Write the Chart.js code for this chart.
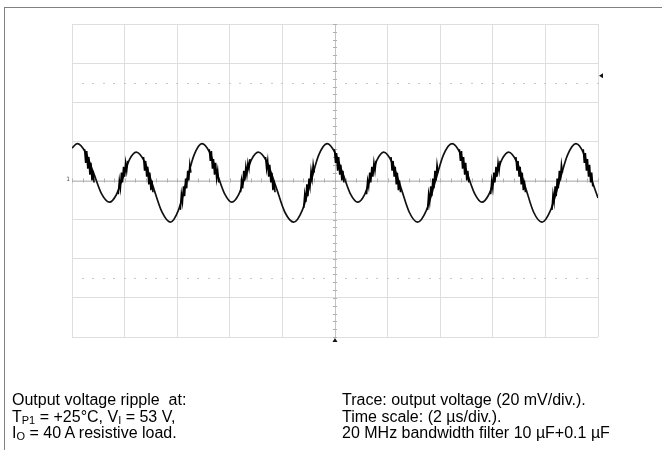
<!DOCTYPE html>
<html>
<head>
<meta charset="utf-8">
<script src="https://cdn.jsdelivr.net/npm/chart.js@4.4.1/dist/chart.umd.min.js"></script>
<style>
  html, body { margin: 0; padding: 0; background: #fff; }
  #wrap { position: relative; width: 662px; height: 450px; overflow: hidden; }
  #c { position: absolute; left: 0; top: 0; }
  #frame { position: absolute; left: 4px; top: 7px; width: 660px; height: 450px;
           border-top: 1px solid #808080; border-left: 1px solid #808080; }
  .note { position: absolute; top: 392px; font-family: "Liberation Sans", Arial, sans-serif;
          font-size: 16px; line-height: 16.5px; color: #000; white-space: nowrap; }
  .sb { font-size: 11px; vertical-align: -2px; line-height: 0; }
</style>
</head>
<body>
<div id="wrap">
  <canvas id="c" width="662" height="450"></canvas>
  <div id="frame"></div>
  <div class="note" style="left:12px;">
    Output voltage ripple&nbsp; at:<br>
    T<span class="sb">P1</span> = +25°C, V<span class="sb">I</span> = 53 V,<br>
    I<span class="sb">O</span> = 40 A resistive load.
  </div>
  <div class="note" style="left:342px;">
    Trace: output voltage (20 mV/div.).<br>
    Time scale: (2 µs/div.).<br>
    20 MHz bandwidth filter 10 µF+0.1 µF
  </div>
</div>
<script>
// Time axis in µs (2 µs/div, 10 div), voltage axis in mV (20 mV/div, 8 div)
const timeTicksUs = [0, 2, 4, 6, 8, 10, 12, 14, 16, 18, 20];
const voltTicksMv = [-80, -60, -40, -20, 0, 20, 40, 60, 80];
const triggerLevelMv = 53.6;
const triggerTimeUs = 10;

// Smooth part of the ripple trace
const traceTimeUs = [
  0.00, 0.20, 0.51, 0.82, 1.12, 1.43, 1.68, 1.94, 2.19, 2.44, 2.77, 3.09, 3.42, 3.74,
  4.04, 4.34, 4.64, 4.94, 5.23, 5.51, 5.80, 6.08, 6.33, 6.58, 6.83, 7.08, 7.42, 7.76,
  8.09, 8.43, 8.75, 9.07, 9.38, 9.70, 9.99, 10.29, 10.58, 10.87, 11.12, 11.36, 11.61,
  11.85, 12.17, 12.50, 12.82, 13.14, 13.47, 13.80, 14.12, 14.45, 14.74, 15.02, 15.31,
  15.59, 15.84, 16.10, 16.35, 16.60, 16.92, 17.24, 17.55, 17.87, 18.19, 18.52, 18.84,
  19.16, 19.45, 19.73, 20.00
];
const traceMv = [
  16.6, 18.9, 14.5, 3.9, -6.7, -11.1, -7.4, 1.7, 10.8, 14.5, 9.3, -3.4, -16.1, -21.3,
  -15.4, -1.2, 13.0, 18.9, 14.5, 3.9, -6.7, -11.1, -7.4, 1.7, 10.8, 14.5, 9.3, -3.4,
  -16.1, -21.3, -15.4, -1.2, 13.0, 18.9, 14.5, 3.9, -6.7, -11.1, -7.4, 1.7, 10.8,
  14.5, 9.3, -3.4, -16.1, -21.3, -15.4, -1.2, 13.0, 18.9, 14.5, 3.9, -6.7,
  -11.1, -7.4, 1.7, 10.8, 14.5, 9.3, -3.4, -16.1, -21.3, -15.4, -1.2, 13.0,
  18.9, 14.0, 1.5, -8.9
];

// Switching-noise bursts on the edges (null separates bursts)
const noiseTimeUs = [
  0.48,0.52,0.56,0.60,0.64,0.68,0.72,0.76,0.80,0.84, 0.86,
  1.76,1.80,1.84,1.88,1.92,1.96,2.00,2.04,2.08,2.12, 2.14,
  2.72,2.76,2.80,2.84,2.88,2.92,2.96,3.00,3.04,3.08, 3.10,
  4.12,4.16,4.20,4.24,4.28,4.32,4.36,4.40,4.44,4.48,4.52, 4.54,
  5.22,5.26,5.30,5.34,5.38,5.42,5.46,5.50,5.54,5.58, 5.60,
  6.41,6.45,6.49,6.53,6.57,6.61,6.65,6.69,6.73,6.77, 6.79,
  7.36,7.40,7.44,7.48,7.52,7.56,7.60,7.64,7.68,7.72, 7.74,
  8.81,8.85,8.89,8.93,8.97,9.01,9.05,9.09,9.13,9.17,9.21, 9.23,
  9.98,10.02,10.06,10.10,10.14,10.18,10.22,10.26,10.30,10.34, 10.36,
  11.20,11.24,11.28,11.32,11.36,11.40,11.44,11.48,11.52,11.56, 11.58,
  12.13,12.17,12.21,12.25,12.29,12.33,12.37,12.41,12.45,12.49, 12.51,
  13.52,13.56,13.60,13.64,13.68,13.72,13.76,13.80,13.84,13.88,13.92, 13.94,
  14.73,14.77,14.81,14.85,14.89,14.93,14.97,15.01,15.05,15.09, 15.11,
  15.92,15.96,16.00,16.04,16.08,16.12,16.16,16.20,16.24,16.28, 16.30,
  16.88,16.92,16.96,17.00,17.04,17.08,17.12,17.16,17.20,17.24, 17.26,
  18.25,18.29,18.33,18.37,18.41,18.45,18.49,18.53,18.57,18.61,18.65, 18.67,
  19.44,19.48,19.52,19.56,19.60,19.64,19.68,19.72,19.76,19.80
];
const noiseMv = [
  16,9,15,6,12,3,9,0,5,-1, null,
  -7,0,-4,4,-1,7,2,9,5,10, null,
  12,5,10,2,7,-2,4,-5,0,-6, null,
  -15,-7,-11,-3,-8,1,-4,5,0,8,4, null,
  16,10,15,6,11,3,9,1,5,-1, null,
  -6,0,-4,5,0,7,3,9,6,11, null,
  12,6,10,2,8,-1,4,-5,0,-6, null,
  -14,-7,-11,-2,-8,1,-3,5,1,8,4, null,
  16,9,14,5,12,3,8,0,5,-1, null,
  -7,0,-3,4,-1,7,2,9,5,10, null,
  12,5,10,2,7,-2,4,-5,0,-6, null,
  -15,-7,-11,-3,-8,1,-4,5,0,8,4, null,
  16,10,15,6,12,3,9,0,5,-1, null,
  -7,0,-4,4,-1,7,2,9,5,10, null,
  12,5,10,2,7,-2,4,-5,0,-6, null,
  -15,-7,-11,-3,-8,1,-4,5,0,8,4, null,
  16,9,14,5,11,2,8,-1,4,-3
];

const tracePoints = traceTimeUs.map((t, i) => ({ x: t, y: traceMv[i] }));
const noisePoints = noiseTimeUs.map((t, i) => ({ x: t, y: noiseMv[i] }));

const scopeDecor = {
  id: 'scopeDecor',
  beforeDatasetsDraw(chart) {
    const { ctx, chartArea: a, scales: { x, y } } = chart;
    const cx = x.getPixelForValue(triggerTimeUs);
    const cy = y.getPixelForValue(0);
    ctx.save();
    ctx.strokeStyle = '#c4c4c4';
    ctx.lineWidth = 1;
    ctx.beginPath();
    ctx.moveTo(a.left, Math.round(cy) + 0.5); ctx.lineTo(a.right, Math.round(cy) + 0.5);
    ctx.moveTo(Math.round(cx) + 0.5, a.top); ctx.lineTo(Math.round(cx) + 0.5, a.bottom);
    ctx.stroke();
    ctx.strokeStyle = '#b0b0b0';
    ctx.beginPath();
    for (let t = 0; t <= 20.001; t += 0.4) {
      const px = Math.round(x.getPixelForValue(t)) + 0.5;
      ctx.moveTo(px, cy - 2); ctx.lineTo(px, cy + 2);
    }
    for (let v = -80; v <= 80.001; v += 4) {
      const py = Math.round(y.getPixelForValue(v)) + 0.5;
      ctx.moveTo(cx - 2, py); ctx.lineTo(cx + 2, py);
    }
    ctx.stroke();
    ctx.fillStyle = '#c8c8c8';
    [50, -50].forEach(v => {
      const py = Math.round(y.getPixelForValue(v));
      for (let t = 0.4; t < 20; t += 0.4) {
        const px = Math.round(x.getPixelForValue(t));
        if (Math.abs(t - 10) < 0.01) continue;
        ctx.fillRect(px - 1, py, 2, 1);
      }
    });
    ctx.restore();
  },
  afterDraw(chart) {
    const { ctx, chartArea: a, scales: { x, y } } = chart;
    ctx.save();
    ctx.fillStyle = '#111';
    const ty = y.getPixelForValue(triggerLevelMv);
    ctx.beginPath();
    ctx.moveTo(a.right + 1, ty); ctx.lineTo(a.right + 5, ty - 2.5); ctx.lineTo(a.right + 5, ty + 2.5);
    ctx.closePath(); ctx.fill();
    const tx = x.getPixelForValue(triggerTimeUs);
    ctx.beginPath();
    ctx.moveTo(tx, a.bottom + 1); ctx.lineTo(tx - 2.5, a.bottom + 5); ctx.lineTo(tx + 2.5, a.bottom + 5);
    ctx.closePath(); ctx.fill();
    ctx.fillStyle = '#555';
    ctx.font = '6px "DejaVu Sans", sans-serif';
    ctx.textAlign = 'right';
    ctx.textBaseline = 'middle';
    ctx.fillText('1', a.left - 2, y.getPixelForValue(0) - 1);
    ctx.restore();
  }
};

new Chart(document.getElementById('c'), {
  type: 'line',
  data: {
    datasets: [
      {
        data: noisePoints,
        borderColor: '#000000',
        borderWidth: 1.6,
        pointRadius: 0,
        tension: 0,
        spanGaps: false,
        fill: false
      },
      {
        data: tracePoints,
        borderColor: '#111111',
        borderWidth: 1.7,
        pointRadius: 0,
        cubicInterpolationMode: 'monotone',
        fill: false
      }
    ]
  },
  options: {
    responsive: false,
    animation: false,
    devicePixelRatio: 1,
    layout: { padding: { left: 72, right: 64, top: 24, bottom: 113 } },
    plugins: { legend: { display: false }, tooltip: { enabled: false } },
    scales: {
      x: {
        type: 'linear', min: 0, max: 20,
        afterBuildTicks: s => { s.ticks = timeTicksUs.map(v => ({ value: v })); },
        ticks: { display: false },
        grid: { color: '#dedede', lineWidth: 1, drawTicks: false },
        border: { display: false }
      },
      y: {
        type: 'linear', min: -80, max: 80,
        afterBuildTicks: s => { s.ticks = voltTicksMv.map(v => ({ value: v })); },
        ticks: { display: false },
        grid: { color: '#dedede', lineWidth: 1, drawTicks: false },
        border: { display: false }
      }
    }
  },
  plugins: [scopeDecor]
});
</script>
</body>
</html>
